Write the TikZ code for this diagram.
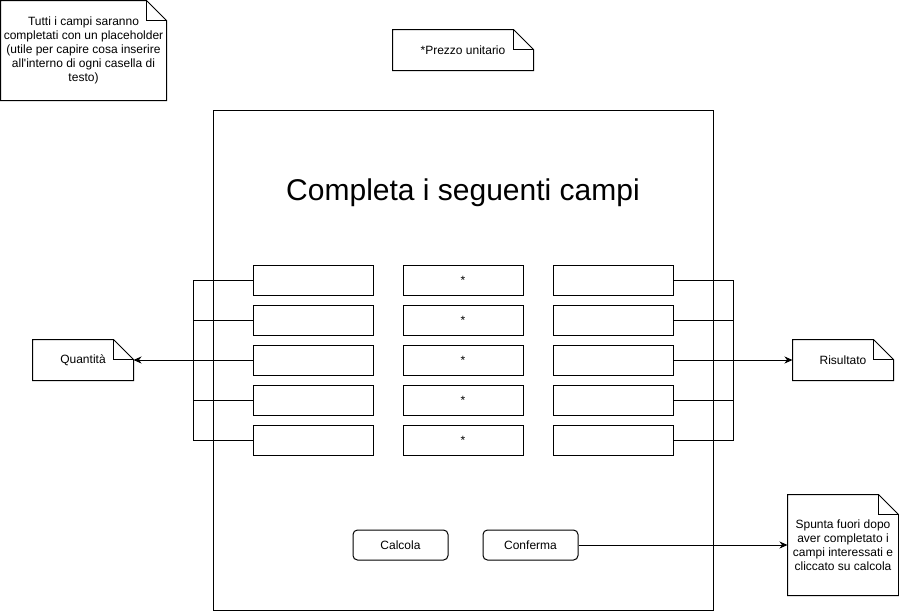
\documentclass[tikz,border=0pt]{standalone}
\usepackage{fontspec}
\setmainfont{Liberation Sans}
\usetikzlibrary{arrows.meta}
\newcommand\dogear[1]{%
  \draw[fill=white] (#1.south west) -- (#1.north west) -- ([xshift=-20pt]#1.north east) -- ([yshift=-20pt]#1.north east) -- (#1.south east) -- cycle;
  \draw ([xshift=-20pt]#1.north east) -- ([xshift=-20pt,yshift=-20pt]#1.north east) -- ([yshift=-20pt]#1.north east);}
\begin{document}
\begin{tikzpicture}[x=1pt,y=-1pt,line width=1pt,line join=miter,
  txt/.style={font=\fontsize{12}{14}\selectfont},
  field/.style={draw, minimum width=120pt, minimum height=30pt, inner sep=0pt, txt},
  notebox/.style={inner sep=0pt, align=center, txt},
  btn/.style={draw, rounded corners=4.5pt, minimum width=95pt, minimum height=30pt, inner sep=0pt, txt},
  arr/.style={-{Stealth[length=8pt,width=7pt,inset=2.5pt]}}]
\useasboundingbox (0,0) rectangle (899,611);
\fill[white] (0,0) rectangle (899,611);

% frame
\node[draw, minimum width=500pt, minimum height=500pt, inner sep=0pt] (frame) at (463,360) {};
\node[anchor=base, font=\fontsize{30}{36}\selectfont] (title) at (463,200) {Completa i seguenti campi};

% notes
\node[notebox, minimum width=165pt, minimum height=99pt] (n1) at (83.5,50.5) {};
\dogear{n1}
\node[notebox] at (n1.center) {Tutti i campi saranno\\completati con un placeholder\\(utile per capire cosa inserire\\all\textquotesingle interno di ogni casella di\\testo)};

\node[notebox, minimum width=140pt, minimum height=40pt] (np) at (463,50) {};
\dogear{np}
\node[notebox] at (np.center) {*Prezzo unitario};

\node[notebox, minimum width=100pt, minimum height=40pt] (Q) at (83,360) {};
\dogear{Q}
\node[notebox] at (Q.center) {Quantità};

\node[notebox, minimum width=100pt, minimum height=40pt] (R) at (843,360) {};
\dogear{R}
\node[notebox] at (R.center) {Risultato};

\node[notebox, minimum width=110pt, minimum height=100pt] (S) at (843,545) {};
\dogear{S}
\node[notebox] at (S.center) {Spunta fuori dopo\\aver completato i\\campi interessati e\\cliccato su calcola};

% fields
\foreach \i/\y in {1/280,2/320,3/360,4/400,5/440}{
  \node[field] (L\i) at (313,\y) {};
  \node[field] (M\i) at (463,\y) {*};
  \node[field] (Rf\i) at (613,\y) {};
}
\coordinate (lb) at (193,360);
\coordinate (rb) at (733,360);

\foreach \i in {1,2,4,5}{
  \draw (L\i.west) -- (L\i.west -| lb) -- (lb);
  \draw (Rf\i.east) -- (Rf\i.east -| rb) -- (rb);
}
\draw[arr] (L3.west) -- (Q.east);
\draw[arr] (Rf3.east) -- (R.west);

% buttons
\node[btn] (calc) at (400.5,545) {Calcola};
\node[btn] (conf) at (530.5,545) {Conferma};
\draw[arr] (conf.east) -- (S.west);
\end{tikzpicture}
\end{document}
